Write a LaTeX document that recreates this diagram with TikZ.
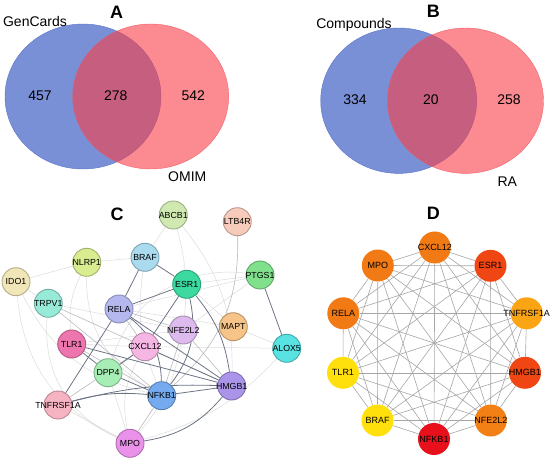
\documentclass[tikz,border=0pt]{standalone}
\usepackage{fontspec}
\setmainfont{Liberation Sans}
\usetikzlibrary{positioning, backgrounds}

% Venn colours
\definecolor{vennblue}{RGB}{122,144,214}
\definecolor{vennblueline}{RGB}{88,114,202}
\definecolor{vennred}{RGB}{250,62,72}
\definecolor{vennredline}{RGB}{240,84,94}
% network colours (panel C)
\definecolor{colABCB}{HTML}{CFE9B0}
\definecolor{colLTB}{HTML}{F7CBBB}
\definecolor{colNLRP}{HTML}{D9EC90}
\definecolor{colBRAF}{HTML}{A9DAEE}
\definecolor{colIDO}{HTML}{F0E6B8}
\definecolor{colESR}{HTML}{3CD9A0}
\definecolor{colPTGS}{HTML}{80E08C}
\definecolor{colTRPV}{HTML}{98EAD8}
\definecolor{colRELA}{HTML}{B4B8EE}
\definecolor{colNFE}{HTML}{DDBBEE}
\definecolor{colMAPT}{HTML}{F6C488}
\definecolor{colTLR}{HTML}{EE76AE}
\definecolor{colCXCL}{HTML}{F6B6E4}
\definecolor{colALOX}{HTML}{58E2E2}
\definecolor{colDPP}{HTML}{A6EEB6}
\definecolor{colHMGB}{HTML}{AA94EA}
\definecolor{colNFKB}{HTML}{74AAEE}
\definecolor{colTNF}{HTML}{F6B4C2}
\definecolor{colMPO}{HTML}{EA92EA}
\definecolor{edgedark}{RGB}{108,116,132}
% hub colours (panel D)
\definecolor{hubred}{HTML}{E8101A}
\definecolor{hubredor}{HTML}{EF4614}
\definecolor{huborange}{HTML}{F27A14}
\definecolor{hubamber}{HTML}{FCA514}
\definecolor{hubyellow}{HTML}{FFE00C}

\tikzset{
  panel/.style={font=\fontsize{18}{18}\selectfont\bfseries},
  setlabel/.style={font=\fontsize{14}{14}\selectfont},
  % label may run past the circle without widening it
  narrowtext/.style={execute at begin node={\hbox to 0pt\bgroup\hss},
    execute at end node={\hss\egroup}},
  gene/.style={circle, fill=#1, draw=#1!75!black, line width=0.9pt,
    minimum size=28pt, inner sep=0pt, narrowtext,
    font=\fontsize{8.8}{9}\selectfont},
  hub/.style={circle, fill=#1, minimum size=32pt, inner sep=0pt, narrowtext,
    font=\fontsize{9}{9}\selectfont},
  weakedge/.style={gray!28, line width=0.5pt},
  midedge/.style={gray!55, line width=0.6pt},
  strongedge/.style={edgedark, line width=0.8pt},
  dedge/.style={gray!70, line width=0.6pt},
}

\begin{document}
\begin{tikzpicture}[x=1pt, y=-1pt]
\useasboundingbox (0,0) rectangle (550,460);

% A: GenCards vs OMIM
\draw[vennblueline, fill=vennblue] (83,96.5) ellipse [x radius=78, y radius=72.5];
\draw[vennredline, fill=vennred, fill opacity=0.6, draw opacity=0.85] (150.7,96.5) ellipse [x radius=78, y radius=72.5];
\node[panel] (labA) at (116.7,12.5) {A};
\node[setlabel] (gencards) at (35,21) {GenCards};
\node[setlabel] (omim) at (187.3,176.5) {OMIM};
\node[setlabel] (onlyA) at (40,96) {457};
\node[setlabel] (bothA) at (115.7,96) {278};
\node[setlabel] (omimA) at (193.3,96) {542};

% B: Compounds vs RA
\draw[vennblueline, fill=vennblue] (398.7,100.7) ellipse [x radius=78, y radius=72.7];
\draw[vennredline, fill=vennred, fill opacity=0.6, draw opacity=0.85] (465.5,100.7) ellipse [x radius=78, y radius=72.7];
\node[panel] (labB) at (433.3,11.5) {B};
\node[setlabel] (compounds) at (354,25) {Compounds};
\node[setlabel] (ra) at (507.3,181.7) {RA};
\node[setlabel] (onlyB) at (355,100) {334};
\node[setlabel] (bothB) at (431,100) {20};
\node[setlabel] (raB) at (509,100) {258};

% C: PPI network
\node[panel] (labC) at (117,214) {C};
\node[gene=colABCB] (cABCB1) at (173.3,215) {ABCB1};
\node[gene=colLTB] (cLTB4R) at (237.3,221.7) {LTB4R};
\node[gene=colNLRP] (cNLRP1) at (86.7,262.3) {NLRP1};
\node[gene=colBRAF] (cBRAF) at (145,257.3) {BRAF};
\node[gene=colIDO] (cIDO1) at (16,281.7) {IDO1};
\node[gene=colESR] (cESR1) at (186.7,284.3) {ESR1};
\node[gene=colPTGS] (cPTGS1) at (260,275) {PTGS1};
\node[gene=colTRPV] (cTRPV1) at (48.3,303.3) {TRPV1};
\node[gene=colRELA] (cRELA) at (119,309) {RELA};
\node[gene=colNFE] (cNFE2L2) at (183.3,330) {NFE2L2};
\node[gene=colMAPT] (cMAPT) at (233.3,326.7) {MAPT};
\node[gene=colTLR] (cTLR1) at (71.7,344) {TLR1};
\node[gene=colCXCL] (cCXCL12) at (145,346.7) {CXCL12};
\node[gene=colALOX] (cALOX5) at (286.7,348.3) {ALOX5};
\node[gene=colDPP] (cDPP4) at (108,372.7) {DPP4};
\node[gene=colHMGB] (cHMGB1) at (231.7,386) {HMGB1};
\node[gene=colNFKB] (cNFKB1) at (161.7,395.7) {NFKB1};
\node[gene=colTNF] (cTNFRSF1A) at (58,405) {TNFRSF1A};
\node[gene=colMPO] (cMPO) at (130,443.3) {MPO};

\begin{scope}[on background layer]
  % weak links
  \foreach \a/\b in {cIDO1/cNLRP1, cIDO1/cTRPV1, cNLRP1/cBRAF, cABCB1/cBRAF,
      cESR1/cPTGS1, cRELA/cPTGS1, cRELA/cMAPT, cMAPT/cALOX5, cESR1/cMAPT,
      cCXCL12/cALOX5, cTLR1/cCXCL12, cTNFRSF1A/cMPO, cTRPV1/cNFE2L2,
      cNFE2L2/cPTGS1, cTLR1/cNFE2L2, cDPP4/cMPO}
    \draw[weakedge] (\a) -- (\b);
  \draw[weakedge] (cIDO1) to[bend right=25] (cNFKB1);
  \draw[weakedge] (cIDO1) to[bend right=30] (cMPO);
  \draw[weakedge] (cNLRP1) to[bend right=15] (cTLR1);
  \draw[weakedge] (cNLRP1) to[bend right=30] (cNFKB1);
  \draw[weakedge] (cABCB1) to[bend left=20] (cHMGB1);
  \draw[weakedge] (cABCB1) to[bend left=10] (cNFE2L2);
  \draw[weakedge] (cTRPV1) to[bend right=35] (cMPO);
  \draw[weakedge] (cPTGS1) to[bend right=40] (cDPP4);
  \draw[weakedge] (cNFE2L2) to[bend left=15] (cMPO);
  \draw[weakedge] (cALOX5) to[bend left=15] (cMPO);
  \draw[weakedge] (cCXCL12) to[bend right=20] (cMPO);
  \draw[weakedge] (cBRAF) to[bend right=15] (cNFKB1);
  % medium links
  \foreach \a/\b in {cMPO/cNFKB1, cTRPV1/cHMGB1, cTRPV1/cNFKB1,
      cNFE2L2/cNFKB1, cNFE2L2/cHMGB1, cTNFRSF1A/cCXCL12,
      cRELA/cCXCL12, cRELA/cNFE2L2, cTLR1/cNFKB1}
    \draw[midedge] (\a) -- (\b);
  \draw[midedge] (cLTB4R) to[bend left=25] (cNFKB1);
  % strong links
  \foreach \a/\b in {cBRAF/cESR1, cBRAF/cRELA, cESR1/cRELA, cESR1/cCXCL12,
      cPTGS1/cALOX5, cRELA/cTNFRSF1A, cRELA/cHMGB1, cTLR1/cHMGB1,
      cTLR1/cDPP4, cCXCL12/cHMGB1, cCXCL12/cDPP4, cDPP4/cNFKB1,
      cNFKB1/cHMGB1}
    \draw[strongedge] (\a) -- (\b);
  \draw[strongedge] (cESR1) to[bend left=25] (cNFKB1);
  \draw[strongedge] (cESR1) to[bend left=15] (cHMGB1);
  \draw[strongedge] (cRELA) to[bend left=25] (cNFKB1);
  \draw[strongedge] (cTNFRSF1A) to[bend left=10] (cNFKB1);
  \draw[strongedge] (cTNFRSF1A) to[bend left=8] (cHMGB1);
  \draw[strongedge] (cMPO) to[bend right=20] (cHMGB1);
\end{scope}

% D: top ten hub genes
\node[panel] (labD) at (433.3,213) {D};
\node[hub=huborange] (dCXCL12) at (434.8,247.5) {CXCL12};
\node[hub=huborange] (dMPO) at (377.8,265.5) {MPO};
\node[hub=hubredor] (dESR1) at (490.5,265.8) {ESR1};
\node[hub=huborange] (dRELA) at (343.3,313.3) {RELA};
\node[hub=hubamber] (dTNFRSF1A) at (526.7,313.3) {TNFRSF1A};
\node[hub=hubyellow] (dTLR1) at (343,372.8) {TLR1};
\node[hub=hubredor] (dHMGB1) at (525,372.8) {HMGB1};
\node[hub=hubyellow] (dBRAF) at (377.5,420.5) {BRAF};
\node[hub=huborange!85!hubamber] (dNFE2L2) at (490.8,420.5) {NFE2L2};
\node[hub=hubred] (dNFKB1) at (434,439) {NFKB1};

\begin{scope}[on background layer]
  \foreach \u [count=\i] in {dCXCL12,dESR1,dTNFRSF1A,dHMGB1,dNFE2L2,dNFKB1,dBRAF,dTLR1,dRELA,dMPO}
    \foreach \v [count=\j] in {dCXCL12,dESR1,dTNFRSF1A,dHMGB1,dNFE2L2,dNFKB1,dBRAF,dTLR1,dRELA,dMPO}
      {\ifnum\j>\i \draw[dedge] (\u) -- (\v); \fi}
\end{scope}
\end{tikzpicture}
\end{document}
